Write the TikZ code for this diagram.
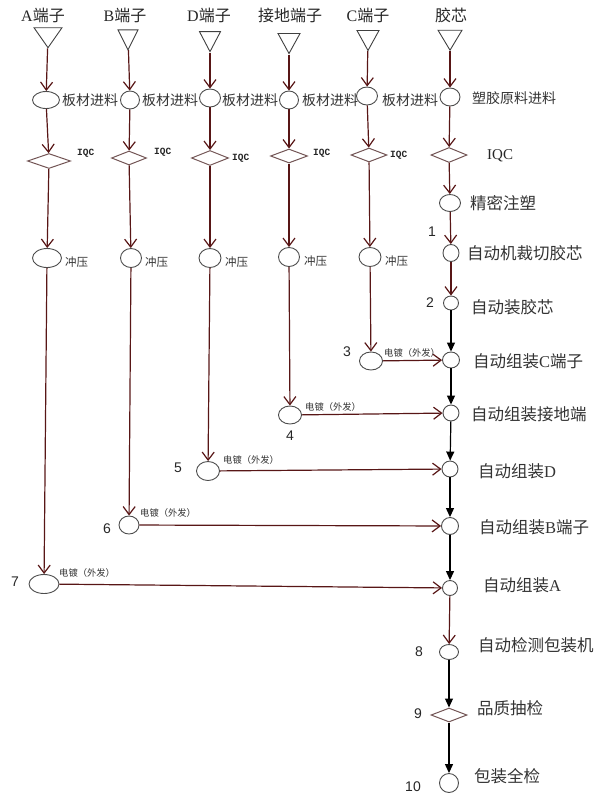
\documentclass[tikz,border=0pt]{standalone}
\usepackage{fontspec}
\setmainfont{Liberation Serif}
\setsansfont{Liberation Sans}
\setmonofont{Liberation Mono}
\newfontfamily\cjk{Noto Sans CJK SC}
\usetikzlibrary{arrows.meta,shapes.geometric}
\definecolor{wire}{RGB}{88,22,22}
\definecolor{qcline}{RGB}{115,85,85}
\newcommand{\lat}[1]{{\rmfamily #1}}
\tikzset{
  src/.style={isosceles triangle, isosceles triangle stretches, shape border rotate=-90,
    draw=black!75, line width=0.9pt, minimum width=#1, minimum height=20, inner sep=0},
  feed/.style={ellipse, draw=black!70, line width=0.9pt, minimum width=#1, minimum height=18, inner sep=0},
  qc/.style={diamond, draw=qcline, line width=1pt, minimum width=#1, minimum height=15, inner sep=0},
  title/.style={font=\cjk\fontsize{16}{18}\selectfont, text=black!85, inner sep=0},
  lbl/.style={font=\cjk\fontsize{14}{16}\selectfont, text=black!80, anchor=west, inner sep=0},
  press/.style={font=\cjk\fontsize{11.5}{13}\selectfont, text=black!80, anchor=west, inner sep=0},
  plate/.style={font=\cjk\fontsize{9.3}{11}\selectfont, text=black!80, anchor=west, inner sep=0},
  iqc/.style={font=\ttfamily\bfseries\fontsize{9.5}{11}\selectfont, text=black!85, anchor=west, inner sep=0},
  proc/.style={font=\cjk\fontsize{16.5}{18}\selectfont, text=black!80, anchor=west, inner sep=0},
  num/.style={font=\sffamily\fontsize{14}{16}\selectfont, text=black!85, inner sep=0},
  flow/.style={draw=wire, line width=1.2pt, -{Straight Barb[length=8pt,width=12pt]}},
  mainflow/.style={draw=black, line width=1.2pt, -{Triangle[length=9pt,width=8pt]}}
}
\begin{document}
\begin{tikzpicture}[x=1pt,y=-1pt]
	\useasboundingbox (0,0) rectangle (599,798);
	% inputs
	\node[title] (hA) at (43,15) {\lat{A}端子};
	\node[title] (hB) at (125,15) {\lat{B}端子};
	\node[title] (hD) at (209,15) {\lat{D}端子};
	\node[title] (hG) at (290,15) {接地端子};
	\node[title] (hC) at (368,15) {\lat{C}端子};
	\node[title] (hJ) at (451,15) {胶芯};
	\node[src=28] (tA) at (48,35) {};
	\node[src=20] (tB) at (128,36) {};
	\node[src=21] (tD) at (210,38) {};
	\node[src=22] (tG) at (289,40) {};
	\node[src=22] (tC) at (368,37) {};
	\node[src=24] (tJ) at (450,37) {};
	% feeding
	\node[feed=27, minimum height=17] (fA) at (46,100) {};
	\node[feed=19] (fB) at (130,100) {};
	\node[feed=21] (fD) at (210,98) {};
	\node[feed=19] (fG) at (289,100) {};
	\node[feed=21] (fC) at (367,96) {};
	\node[feed=20] (fJ) at (450,97) {};
	\node[lbl] at (62,100) {板材进料};
	\node[lbl] at (142,100) {板材进料};
	\node[lbl] at (222,100) {板材进料};
	\node[lbl] at (302,100) {板材进料};
	\node[lbl] at (382,100) {板材进料};
	\node[lbl] at (472,98) {塑胶原料进料};
	% incoming inspection
	\node[qc=43] (qA) at (49,161) {};
	\node[qc=35, minimum height=14] (qB) at (129,158) {};
	\node[qc=37] (qD) at (210,158) {};
	\node[qc=37, minimum height=14] (qG) at (289,156) {};
	\node[qc=36, minimum height=14] (qC) at (369,155) {};
	\node[qc=36] (qJ) at (449,155) {};
	\node[iqc] at (77,153) {IQC};
	\node[iqc] at (154,152) {IQC};
	\node[iqc] at (232,158) {IQC};
	\node[iqc] at (313,153) {IQC};
	\node[iqc] at (390,155) {IQC};
	\node[font=\rmfamily\fontsize{15}{17}\selectfont, text=black!85, anchor=west, inner sep=0] at (487,156) {IQC};
	% stamping
	\node[feed=29, minimum height=19] (pA) at (47,258) {};
	\node[feed=21, minimum height=19] (pB) at (131,258) {};
	\node[feed=22, minimum height=19] (pD) at (210,258) {};
	\node[feed=21, minimum height=19] (pG) at (289,257) {};
	\node[feed=22, minimum height=19] (pC) at (370,257) {};
	\node[press] at (65,262) {冲压};
	\node[press] at (145,262) {冲压};
	\node[press] at (225,262) {冲压};
	\node[press] at (304,261) {冲压};
	\node[press] at (385,261) {冲压};
	% plating
	\node[feed=30, minimum height=19] (eA) at (44,584) {};
	\node[feed=20] (eB) at (129,525) {};
	\node[feed=23, minimum height=19] (eD) at (208,471) {};
	\node[feed=23] (eG) at (290,415) {};
	\node[feed=23] (eC) at (371,361) {};
	\node[plate] at (384,353) {电镀（外发）};
	\node[plate] at (305,407) {电镀（外发）};
	\node[plate] at (223,460) {电镀（外发）};
	\node[plate] at (140,513) {电镀（外发）};
	\node[plate] at (59,573) {电镀（外发）};
	% main line
	\node[feed=21, minimum height=17] (sMold) at (450,203) {};
	\node[feed=16, minimum height=17] (sCut) at (451,253) {};
	\node[feed=15, minimum height=14] (sLoad) at (451,303) {};
	\node[feed=17, minimum height=16] (sC) at (451,360) {};
	\node[feed=16, minimum height=16] (sG) at (451,413) {};
	\node[feed=16, minimum height=16] (sD) at (450,469) {};
	\node[feed=17, minimum height=17] (sB) at (450,526) {};
	\node[feed=15, minimum height=15] (sA) at (450,588) {};
	\node[feed=19, minimum height=15] (sTest) at (449,652) {};
	\node[qc=36, minimum height=14] (qS) at (449,715) {};
	\node[feed=19, minimum height=19] (sPack) at (449,783) {};
	\node[proc] at (470,203) {精密注塑};
	\node[proc] at (467,253) {自动机裁切胶芯};
	\node[proc] at (471,307) {自动装胶芯};
	\node[proc] at (473,361) {自动组装\lat{C}端子};
	\node[proc] at (471,414) {自动组装接地端};
	\node[proc] at (478,471) {自动组装\lat{D}};
	\node[proc] at (479,527) {自动组装\lat{B}端子};
	\node[proc] at (483,585) {自动组装\lat{A}};
	\node[proc] at (478,645) {自动检测包装机};
	\node[proc] at (477,708) {品质抽检};
	\node[proc] at (474,776) {包装全检};
	% step numbers
	\node[num] at (432,232) {1};
	\node[num] at (430,303) {2};
	\node[num] at (347,352) {3};
	\node[num] at (290,436) {4};
	\node[num] at (178,468) {5};
	\node[num] at (107,529) {6};
	\node[num] at (15,582) {7};
	\node[num] at (419,652) {8};
	\node[num] at (418,714) {9};
	\node[num] at (413,787) {10};
	% connectors
	\draw[flow] (tA) -- (fA);
	\draw[flow] (tB) -- (fB);
	\draw[flow] (tD) -- (fD);
	\draw[flow] (tG) -- (fG);
	\draw[flow] (tC) -- (fC);
	\draw[flow] (tJ) -- (fJ);
	\draw[flow] (fA) -- (qA);
	\draw[flow] (fB) -- (qB);
	\draw[flow] (fD) -- (qD);
	\draw[flow] (fG) -- (qG);
	\draw[flow] (fC) -- (qC);
	\draw[flow] (fJ) -- (qJ);
	\draw[flow] (qA) -- (pA);
	\draw[flow] (qB) -- (pB);
	\draw[flow] (qD) -- (pD);
	\draw[flow] (qG) -- (pG);
	\draw[flow] (qC) -- (pC);
	\draw[flow] (pA) -- (eA);
	\draw[flow] (pB) -- (eB);
	\draw[flow] (pD) -- (eD);
	\draw[flow] (pG) -- (eG);
	\draw[flow] (pC) -- (eC);
	\draw[flow] (eC) -- (sC);
	\draw[flow] (eG) -- (sG);
	\draw[flow] (eD) -- (sD);
	\draw[flow] (eB) -- (sB);
	\draw[flow] (eA) -- (sA);
	\draw[flow] (qJ) -- (sMold);
	\draw[flow] (sMold) -- (sCut);
	\draw[flow] (sCut) -- (sLoad);
	\draw[mainflow] (sLoad) -- (sC);
	\draw[mainflow] (sC) -- (sG);
	\draw[mainflow] (sG) -- (sD);
	\draw[mainflow] (sD) -- (sB);
	\draw[mainflow] (sB) -- (sA);
	\draw[flow] (sA) -- (sTest);
	\draw[mainflow] (sTest) -- (qS);
	\draw[mainflow] (qS) -- (sPack);
\end{tikzpicture}
\end{document}
